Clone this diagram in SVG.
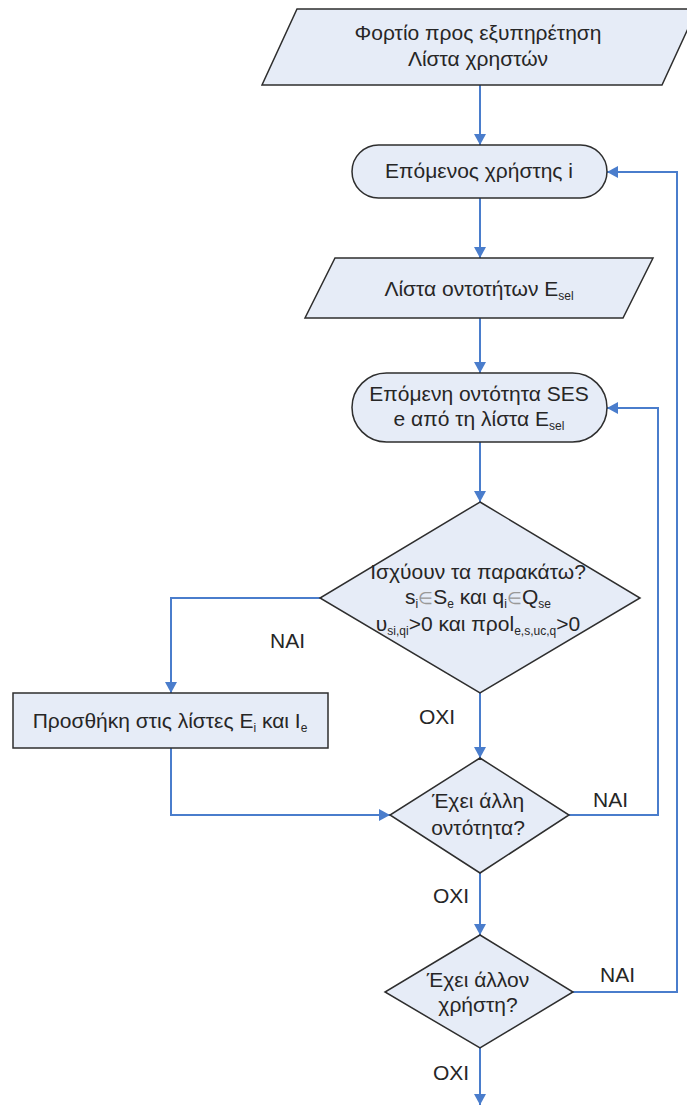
<svg xmlns="http://www.w3.org/2000/svg" width="687" height="1109" viewBox="0 0 687 1109">
  <style>
    .shape { fill: #e6ecf7; stroke: #2e2e2e; stroke-width: 1.5; }
    .t { font-family: "Liberation Sans", Arial, sans-serif; font-size: 21px; fill: #262626; text-anchor: middle; }
    .lbl { font-family: "Liberation Sans", Arial, sans-serif; font-size: 21px; fill: #262626; }
    .sub { font-size: 12px; }
    .sym { fill: #999; font-size: 17px; }
    .conn { fill: none; stroke: #4a7dcc; stroke-width: 2; marker-end: url(#arrow); }
  </style>
  <defs>
    <marker id="arrow" markerUnits="userSpaceOnUse" markerWidth="12" markerHeight="12" refX="11" refY="6" orient="auto">
      <path d="M0,0 L11,6 L0,12 z" fill="#4a7dcc"/>
    </marker>
  </defs>
  <rect width="687" height="1109" fill="#ffffff"/>

  <g id="connectors">
    <path class="conn" d="M480,85 V145"/>
    <path class="conn" d="M480,198 V258"/>
    <path class="conn" d="M480,318 V373"/>
    <path class="conn" d="M480,442 V502"/>
    <path class="conn" d="M320,598 H171 V693"/>
    <path class="conn" d="M480,693 V758"/>
    <path class="conn" d="M171,748 V815 H390"/>
    <path class="conn" d="M568,815 H658 V408 H607"/>
    <path class="conn" d="M480,873 V935"/>
    <path class="conn" d="M573,992 H677 V172 H607"/>
    <path class="conn" d="M480,1048 V1105"/>
  </g>

  <g id="load-input">
    <polygon class="shape" points="297,9 697,9 662,85 262,85"/>
    <text class="t" x="478" y="40">Φορτίο προς εξυπηρέτηση</text>
    <text class="t" x="478" y="66">Λίστα χρηστών</text>
  </g>

  <g id="next-user">
    <rect class="shape" x="352" y="145" width="255" height="53" rx="26.5"/>
    <text class="t" x="479" y="178">Επόμενος χρήστης i</text>
  </g>

  <g id="entity-list">
    <polygon class="shape" points="335,258 653,258 623,318 305,318"/>
    <text class="t" x="479" y="296">Λίστα οντοτήτων E<tspan class="sub" dy="4">sel</tspan></text>
  </g>

  <g id="next-entity">
    <rect class="shape" x="352" y="373" width="255" height="69" rx="34.5"/>
    <text class="t" x="479" y="401">Επόμενη οντότητα SES</text>
    <text class="t" x="479" y="426">e από τη λίστα E<tspan class="sub" dy="4">sel</tspan></text>
  </g>

  <g id="check-conditions">
    <polygon class="shape" points="480,502 640,598 480,693 320,598"/>
    <text class="t" x="478" y="579">Ισχύουν τα παρακάτω?</text>
    <text class="t" x="478" y="604">s<tspan class="sub" dy="4">i</tspan><tspan class="sym" dy="-4">∈</tspan>S<tspan class="sub" dy="4">e</tspan><tspan dy="-4"> και q</tspan><tspan class="sub" dy="4">i</tspan><tspan class="sym" dy="-4">∈</tspan>Q<tspan class="sub" dy="4">se</tspan></text>
    <text class="t" x="478" y="631">υ<tspan class="sub" dy="4">si,qi</tspan><tspan dy="-4">&gt;0 και προl</tspan><tspan class="sub" dy="4">e,s,uc,q</tspan><tspan dy="-4">&gt;0</tspan></text>
  </g>

  <g id="add-to-lists">
    <rect class="shape" x="13" y="693" width="315" height="55"/>
    <text class="t" x="170" y="728">Προσθήκη στις λίστες E<tspan class="sub" dy="4">i</tspan><tspan dy="-4"> και I</tspan><tspan class="sub" dy="4">e</tspan></text>
  </g>

  <g id="more-entities">
    <polygon class="shape" points="480,758 569,815 480,873 390,815"/>
    <text class="t" x="478" y="808">Έχει άλλη</text>
    <text class="t" x="478" y="835">οντότητα?</text>
  </g>

  <g id="more-users">
    <polygon class="shape" points="480,935 573,992 480,1048 385,992"/>
    <text class="t" x="478" y="987">Έχει άλλον</text>
    <text class="t" x="478" y="1012">χρήστη?</text>
  </g>

  <g id="labels">
    <text class="lbl" x="270" y="648">NAI</text>
    <text class="lbl" x="419" y="724">OXI</text>
    <text class="lbl" x="593" y="807">NAI</text>
    <text class="lbl" x="433" y="903">OXI</text>
    <text class="lbl" x="600" y="982">NAI</text>
    <text class="lbl" x="433" y="1080">OXI</text>
  </g>
</svg>
